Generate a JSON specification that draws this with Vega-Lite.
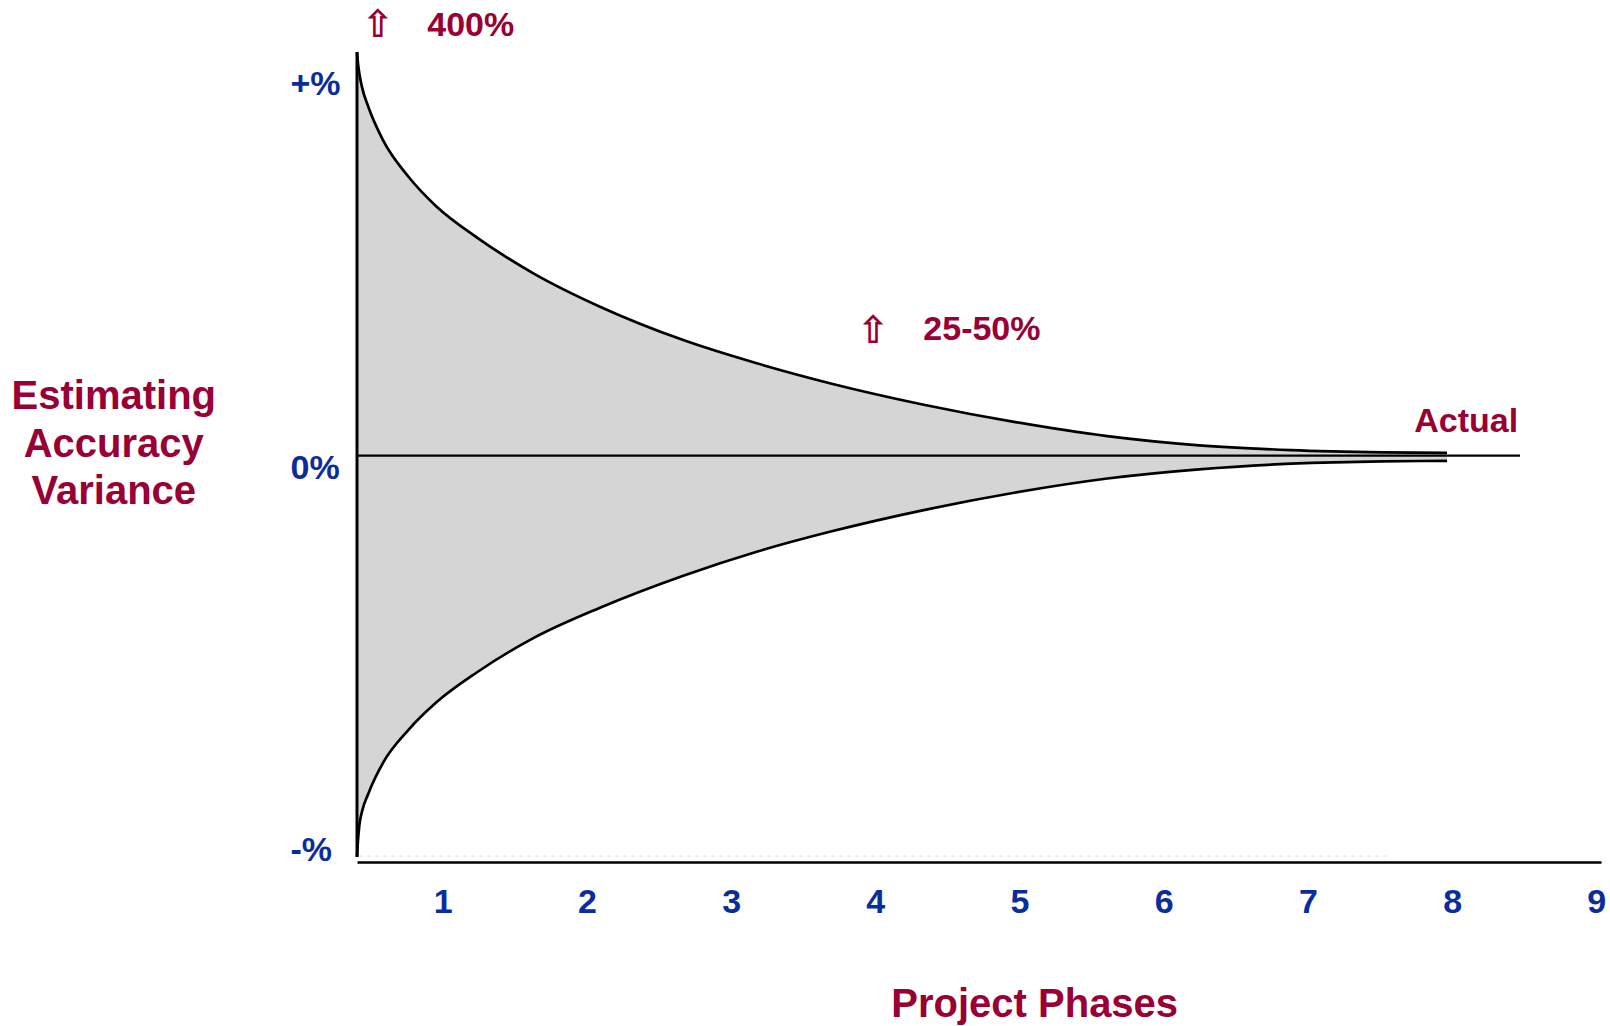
{
  "$schema": "https://vega.github.io/schema/vega-lite/v6.json",
  "autosize": "none",
  "padding": {"left": 357, "top": 52, "right": 9, "bottom": 164},
  "width": 1244,
  "height": 810,
  "background": "white",
  "config": {"view": {"stroke": null}, "font": "Liberation Sans"},
  "datasets": {
    "curve": [
      {"phase": 0.406, "upper": 100.9, "lower": -100.3},
      {"phase": 0.41, "upper": 99.0, "lower": -97.5},
      {"phase": 0.4216, "upper": 95.6, "lower": -92.5},
      {"phase": 0.44, "upper": 92.2, "lower": -89.0},
      {"phase": 0.484, "upper": 87.25, "lower": -84.5},
      {"phase": 0.586, "upper": 78.9, "lower": -76.8},
      {"phase": 0.7614, "upper": 69.8, "lower": -68.6},
      {"phase": 0.9584, "upper": 62.25, "lower": -61.6},
      {"phase": 1.2358, "upper": 54.6, "lower": -54.2},
      {"phase": 1.6287, "upper": 45.6, "lower": -45.6},
      {"phase": 2.0908, "upper": 37.25, "lower": -38.0},
      {"phase": 2.6685, "upper": 28.9, "lower": -30.0},
      {"phase": 3.1775, "upper": 23.1, "lower": -24.0},
      {"phase": 3.698, "upper": 18.0, "lower": -18.9},
      {"phase": 4.336, "upper": 12.75, "lower": -13.6},
      {"phase": 4.972, "upper": 8.4, "lower": -9.2},
      {"phase": 5.609, "upper": 4.9, "lower": -5.7},
      {"phase": 6.245, "upper": 2.6, "lower": -3.4},
      {"phase": 6.882, "upper": 1.4, "lower": -2.0},
      {"phase": 7.519, "upper": 0.85, "lower": -1.4},
      {"phase": 7.965, "upper": 0.7, "lower": -1.3}
    ],
    "labels": [
      {"text": "400%", "x": 0.893, "v": 107.4},
      {"text": "25-50%", "x": 4.333, "v": 31.55},
      {"text": "Actual", "x": 7.738, "v": 8.55}
    ],
    "arrows": [
      {"text": "⇧", "x": 0.551, "v": 107.5},
      {"text": "⇧", "x": 3.986, "v": 31.05}
    ],
    "zeroLine": [{"x": 0.4057, "x2": 8.471, "v": 0}],
    "leftEdge": [{"x": 0.4057, "v": 100.925, "v2": -100.3}],
    "faintLine": [{"x": 0.42, "x2": 7.57, "v": -100.1}]
  },
  "layer": [
    {
      "data": {"name": "curve"},
      "mark": {"type": "area", "fill": "#d5d5d5", "interpolate": "monotone"},
      "encoding": {
        "x": {
          "field": "phase",
          "type": "quantitative",
          "scale": {"domain": [0.4057, 9.0326], "nice": false, "zero": false},
          "axis": {
            "values": [1, 2, 3, 4, 5, 6, 7, 8, 9],
            "format": "d",
            "title": "Project Phases",
            "domain": true,
            "domainColor": "black",
            "domainWidth": 2.5,
            "ticks": false,
            "grid": false,
            "labelFont": "Liberation Sans",
            "labelFontSize": 34,
            "labelFontWeight": "bold",
            "labelColor": "#0a2d9e",
            "labelPadding": 40,
            "labelBaseline": "middle",
            "labelFlush": false,
            "labelOverlap": false,
            "titleFont": "Liberation Sans",
            "titleFontSize": 40,
            "titleFontWeight": "bold",
            "titleColor": "#990033",
            "titleX": 677.2,
            "titleY": 154,
            "titleAlign": "center",
            "titleBaseline": "alphabetic"
          }
        },
        "y": {
          "field": "upper",
          "type": "quantitative",
          "scale": {"domain": [-101.575, 100.925], "nice": false, "zero": false},
          "axis": {
            "values": [92.9, -3.1, -98.6],
            "labelExpr": "datum.value > 50 ? '+%' : datum.value < -50 ? '-%' : '0%'",
            "title": ["Estimating", "Accuracy", "Variance"],
            "titleAngle": 0,
            "titleX": -243.7,
            "titleY": 324.5,
            "titleAlign": "center",
            "titleBaseline": "top",
            "titleLineHeight": 47.7,
            "titleFont": "Liberation Sans",
            "titleFontSize": 40,
            "titleFontWeight": "bold",
            "titleColor": "#990033",
            "domain": false,
            "ticks": false,
            "grid": false,
            "labelAlign": "left",
            "labelBaseline": "middle",
            "labelPadding": 67,
            "labelFlush": false,
            "labelOverlap": false,
            "labelFont": "Liberation Sans",
            "labelFontSize": 34,
            "labelFontWeight": "bold",
            "labelColor": "#0a2d9e"
          }
        },
        "y2": {"field": "lower"}
      }
    },
    {
      "data": {"name": "faintLine"},
      "mark": {"type": "rule", "stroke": "#dddddd", "strokeWidth": 1, "strokeDash": [4, 4]},
      "encoding": {
        "x": {"field": "x", "type": "quantitative"},
        "x2": {"field": "x2"},
        "y": {"field": "v", "type": "quantitative"}
      }
    },
    {
      "data": {"name": "curve"},
      "mark": {"type": "line", "stroke": "black", "strokeWidth": 2.7, "interpolate": "monotone"},
      "encoding": {
        "x": {"field": "phase", "type": "quantitative"},
        "y": {"field": "upper", "type": "quantitative"}
      }
    },
    {
      "data": {"name": "curve"},
      "mark": {"type": "line", "stroke": "black", "strokeWidth": 2.7, "interpolate": "monotone"},
      "encoding": {
        "x": {"field": "phase", "type": "quantitative"},
        "y": {"field": "lower", "type": "quantitative"}
      }
    },
    {
      "data": {"name": "zeroLine"},
      "mark": {"type": "rule", "stroke": "black", "strokeWidth": 2.3},
      "encoding": {
        "x": {"field": "x", "type": "quantitative"},
        "x2": {"field": "x2"},
        "y": {"field": "v", "type": "quantitative"}
      }
    },
    {
      "data": {"name": "leftEdge"},
      "mark": {"type": "rule", "stroke": "black", "strokeWidth": 3},
      "encoding": {
        "x": {"field": "x", "type": "quantitative"},
        "y": {"field": "v", "type": "quantitative"},
        "y2": {"field": "v2"}
      }
    },
    {
      "data": {"name": "labels"},
      "mark": {"type": "text", "align": "left", "baseline": "middle", "font": "Liberation Sans", "fontSize": 34, "fontWeight": "bold", "color": "#990033"},
      "encoding": {
        "x": {"field": "x", "type": "quantitative"},
        "y": {"field": "v", "type": "quantitative"},
        "text": {"field": "text"}
      }
    },
    {
      "data": {"name": "arrows"},
      "mark": {"type": "text", "align": "center", "baseline": "middle", "font": "DejaVu Sans", "fontSize": 38, "fontWeight": "bold", "color": "#990033"},
      "encoding": {
        "x": {"field": "x", "type": "quantitative"},
        "y": {"field": "v", "type": "quantitative"},
        "text": {"field": "text"}
      }
    }
  ]
}
